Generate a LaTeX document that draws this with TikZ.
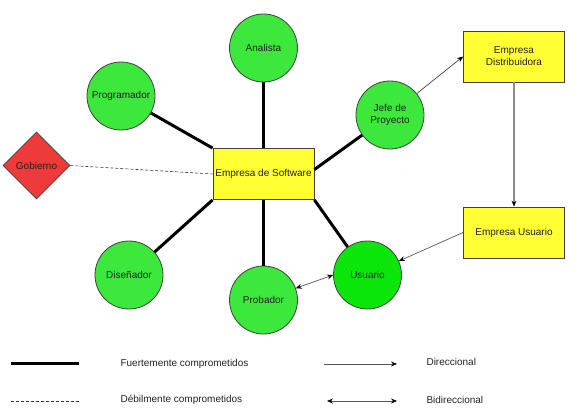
\documentclass[tikz,border=0pt]{standalone}
\usepackage{fontspec}
\setmainfont{Liberation Sans}
\usepackage{xcolor}
\usepackage{tikz}
\usetikzlibrary{
  positioning, arrows.meta, shapes.geometric, calc
}
\definecolor{actorGreen}{HTML}{3BE83B}
\definecolor{userGreen}{HTML}{0AE60A}
\definecolor{firmYellow}{HTML}{FFFF33}
\definecolor{govRed}{HTML}{EE3A3A}
\definecolor{lineGray}{HTML}{555555}
\definecolor{textDark}{HTML}{222222}

\begin{document}
\begin{tikzpicture}[
  x=1pt, y=-1pt,
  every node/.style={font=\fontsize{10}{12}\selectfont, text=textDark},
  actor/.style={
    circle, draw=black!75, line width=0.8pt,
    fill=#1, minimum size=68pt, inner sep=0pt, align=center
  },
  actor/.default=actorGreen,
  firm/.style={
    rectangle, draw=black!75, line width=0.8pt,
    fill=firmYellow, minimum width=101pt, minimum height=51pt,
    inner sep=0pt, align=center
  },
  gov/.style={
    diamond, draw=black!75, line width=0.8pt,
    fill=govRed, minimum size=67pt, inner sep=0pt
  },
  strong/.style={line width=3pt, black},
  weak/.style={densely dashed, line width=0.6pt, black!80},
  dirarrow/.style={-{Stealth[length=6pt, width=5pt, black]}, line width=0.7pt, #1},
  dirarrow/.default=lineGray,
  biarrow/.style={{Stealth[length=6pt, width=5pt, black]}-{Stealth[length=6pt, width=5pt, black]}, line width=0.7pt, lineGray},
  legendtext/.style={anchor=west, text=textDark},
]
\useasboundingbox (0,0) rectangle (571,412);

% === NODES ===
\node[firm] (soft) at (263.5,174) {Empresa de Software};
\node[actor] (ana) at (263.5,48) {Analista};
\node[actor] (prog) at (121,96) {Programador};
\node[actor] (jefe) at (390,115) {Jefe de\\Proyecto};
\node[actor] (dis) at (129,275) {Diseñador};
\node[actor] (prob) at (263.5,300) {Probador};
\node[actor=userGreen] (usu) at (367.5,275) {Usuario};
\node[gov] (gob) at (36.5,165.5) {Gobierno};
\node[firm] (dist) at (514,56.5) {Empresa\\Distribuidora};
\node[firm] (eusu) at (514,232.5) {Empresa Usuario};

% === STRONG LINKS ===
\draw[strong] (ana) -- (soft);
\draw[strong] (prog) -- (soft.north west);
\draw[strong] (jefe) -- (soft.5);
\draw[strong] (soft.south west) -- (dis);
\draw[strong] (soft) -- (prob);
\draw[strong] (soft.south east) -- (usu);

% === WEAK LINK ===
\draw[weak] (gob.east) -- (soft.west);

% === ARROWS ===
\draw[dirarrow=black!75] (jefe) -- (dist.west);
\draw[dirarrow=black!45, line width=1.2pt] (dist) -- (eusu);
\draw[dirarrow] (eusu.west) -- (usu);
\draw[biarrow] (prob.20) -- (usu.west);

% === LEGEND ===
\coordinate (l1a) at (11,363);
\coordinate (l1b) at (79,363);
\coordinate (l2a) at (11,401);
\coordinate (l2b) at (79,401);
\coordinate (l3a) at (324,364);
\coordinate (l3b) at (397,364);
\coordinate (l4a) at (327,401);
\coordinate (l4b) at (397,401);
\draw[strong] (l1a) -- (l1b);
\draw[weak] (l2a) -- (l2b);
\draw[dirarrow] (l3a) -- (l3b);
\draw[biarrow] (l4a) -- (l4b);
\node[legendtext] (fuerte) at (117,364) {Fuertemente comprometidos};
\node[legendtext] (debil) at (117,400) {Débilmente comprometidos};
\node[legendtext] (direc) at (423,362) {Direccional};
\node[legendtext] (bidir) at (423,400) {Bidireccional};

\end{tikzpicture}
\end{document}
